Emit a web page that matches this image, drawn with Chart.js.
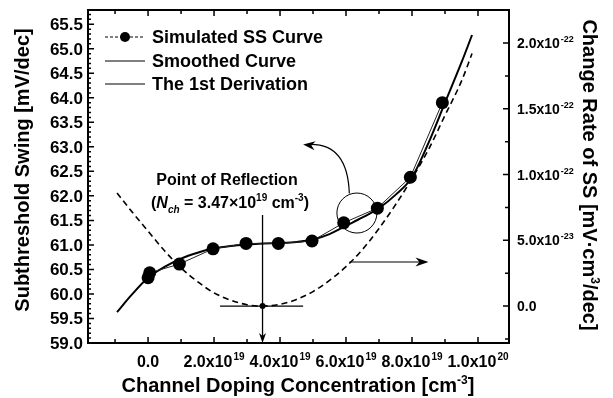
<!DOCTYPE html>
<html>
<head>
<meta charset="utf-8">
<script src="https://cdn.jsdelivr.net/npm/chart.js@4.4.0/dist/chart.umd.min.js"></script>
<style>
  html, body { margin: 0; padding: 0; background: #fff; }
  canvas { display: block; }
</style>
</head>
<body>
<canvas id="c" width="613" height="398"></canvas>
<script>
// x values are in units of 1e19 cm^-3, right axis in units of 1e-22
const simX = [0.0, 0.05, 0.95, 1.97, 2.97, 3.95, 4.97, 5.93, 6.95, 7.95, 8.92];
const simY = [60.33, 60.43, 60.61, 60.92, 61.03, 61.03, 61.08, 61.45, 61.75, 62.38, 63.9];

const smoothX = [-0.94, -0.5, 0, 0.5, 1, 1.5, 2, 2.5, 3, 3.5, 4, 4.5, 5, 5.5, 6, 6.5, 7, 7.5, 8, 8.5, 9, 9.5, 9.82];
const smoothY = [59.63, 59.98, 60.33, 60.55, 60.72, 60.84, 60.93, 60.98, 61.01, 61.03, 61.04, 61.06, 61.11, 61.22, 61.39, 61.56, 61.75, 62.02, 62.38, 63.08, 63.9, 64.72, 65.28];

const derivX = [-0.94, -0.5, 0, 0.5, 1, 1.5, 2, 2.5, 3, 3.47, 4, 4.5, 5, 5.5, 6, 6.5, 7, 7.5, 8, 8.5, 9, 9.5, 9.82];
const derivY = [0.86, 0.72, 0.57, 0.42, 0.29, 0.185, 0.10, 0.045, 0.01, 0, 0.013, 0.05, 0.11, 0.195, 0.30, 0.43, 0.59, 0.77, 0.97, 1.19, 1.45, 1.71, 1.92];

const legendLabels = ['Simulated SS Curve', 'Smoothed Curve', 'The 1st Derivation'];

const xTickValues = [0, 2, 4, 6, 8, 10];
const xTickBase = ['0.0', '2.0x10', '4.0x10', '6.0x10', '8.0x10', '1.0x10'];
const xTickExp = ['', '19', '19', '19', '19', '20'];
const xMinorValues = [-1, 1, 3, 5, 7, 9];

const yTickValues = [59.0, 59.5, 60.0, 60.5, 61.0, 61.5, 62.0, 62.5, 63.0, 63.5, 64.0, 64.5, 65.0, 65.5];
const yTickLabels = ['59.0', '59.5', '60.0', '60.5', '61.0', '61.5', '62.0', '62.5', '63.0', '63.5', '64.0', '64.5', '65.0', '65.5'];

const y2TickValues = [0, 0.5, 1.0, 1.5, 2.0];
const y2TickBase = ['0.0', '5.0x10', '1.0x10', '1.5x10', '2.0x10'];
const y2TickExp = ['', '-23', '-22', '-22', '-22'];
const y2MinorValues = [-0.25, 0.25, 0.75, 1.25, 1.75, 2.25];

const F = '"Liberation Sans", Arial, sans-serif';

function pts(xs, ys) {
  return xs.map((x, i) => ({ x: x, y: ys[i] }));
}

// texte avec exposant
function supText(c, base, exp, x, y, size, align) {
  c.font = 'bold ' + size + 'px ' + F;
  const w1 = c.measureText(base).width;
  const ss = Math.round(size * 0.62);
  c.font = 'bold ' + ss + 'px ' + F;
  const w2 = exp ? c.measureText(exp).width + 1 : 0;
  let x0 = x;
  if (align === 'center') x0 = x - (w1 + w2) / 2;
  if (align === 'right') x0 = x - w1 - w2;
  c.textAlign = 'left';
  c.textBaseline = 'alphabetic';
  c.font = 'bold ' + size + 'px ' + F;
  c.fillText(base, x0, y);
  if (exp) {
    c.font = 'bold ' + ss + 'px ' + F;
    c.fillText(exp, x0 + w1 + 1, y - size * 0.42);
  }
}

// suite de morceaux (normal / italique / indice / exposant)
function partsText(c, parts, cx, y, size) {
  const fontOf = p => (p.it ? 'italic ' : '') + 'bold ' + (p.sub || p.sup ? Math.round(size * 0.62) : size) + 'px ' + F;
  let total = 0;
  parts.forEach(p => { c.font = fontOf(p); p.w = c.measureText(p.t).width; total += p.w; });
  let x = cx - total / 2;
  c.textAlign = 'left';
  c.textBaseline = 'alphabetic';
  parts.forEach(p => {
    c.font = fontOf(p);
    let yy = y;
    if (p.sup) yy = y - size * 0.42;
    if (p.sub) yy = y + size * 0.3;
    c.fillText(p.t, x, yy);
    x += p.w;
  });
}

function arrowHead(c, x, y, angle, len, half) {
  c.save();
  c.translate(x, y);
  c.rotate(angle);
  c.beginPath();
  c.moveTo(0, 0);
  c.lineTo(-len, -half);
  c.lineTo(-len * 0.7, 0);
  c.lineTo(-len, half);
  c.closePath();
  c.fill();
  c.restore();
}

const decorPlugin = {
  id: 'decor',
  afterDraw(chart) {
    const c = chart.ctx;
    const a = chart.chartArea;
    const sx = chart.scales.x, sy = chart.scales.y, sy2 = chart.scales.y2;
    c.save();
    c.fillStyle = '#000';
    c.strokeStyle = '#000';

    // cadre
    c.lineWidth = 2;
    c.strokeRect(a.left, a.top, a.right - a.left, a.bottom - a.top);

    // graduations vers l'intérieur
    c.lineWidth = 1.5;
    c.beginPath();
    xTickValues.forEach(v => {
      const px = sx.getPixelForValue(v);
      c.moveTo(px, a.bottom); c.lineTo(px, a.bottom - 6);
      c.moveTo(px, a.top); c.lineTo(px, a.top + 6);
    });
    xMinorValues.forEach(v => {
      const px = sx.getPixelForValue(v);
      c.moveTo(px, a.bottom); c.lineTo(px, a.bottom - 4);
      c.moveTo(px, a.top); c.lineTo(px, a.top + 4);
    });
    yTickValues.forEach(v => {
      const py = sy.getPixelForValue(v);
      c.moveTo(a.left, py); c.lineTo(a.left + 6, py);
    });
    for (let v = 59.1; v < 65.75; v += 0.1) {
      const py = sy.getPixelForValue(v);
      c.moveTo(a.left, py); c.lineTo(a.left + 3, py);
    }
    y2TickValues.forEach(v => {
      const py = sy2.getPixelForValue(v);
      c.moveTo(a.right, py); c.lineTo(a.right - 6, py);
    });
    y2MinorValues.forEach(v => {
      const py = sy2.getPixelForValue(v);
      c.moveTo(a.right, py); c.lineTo(a.right - 4, py);
    });
    c.stroke();

    // étiquettes des axes
    xTickValues.forEach((v, i) => {
      supText(c, xTickBase[i], xTickExp[i], sx.getPixelForValue(v), 367, 16, 'center');
    });
    yTickValues.forEach((v, i) => {
      supText(c, yTickLabels[i], '', 83, sy.getPixelForValue(v) + 6, 17, 'right');
    });
    y2TickValues.forEach((v, i) => {
      supText(c, y2TickBase[i], y2TickExp[i], 517, sy2.getPixelForValue(v) + 5, 14, 'left');
    });

    // titres
    partsText(c, [{ t: 'Channel Doping Concentration [cm' }, { t: '-3', sup: true }, { t: ']' }], 298, 392, 20);
    c.save();
    c.translate(22, 170);
    c.rotate(-Math.PI / 2);
    partsText(c, [{ t: 'Subthreshold Swing [mV/dec]' }], 0, 7, 20);
    c.restore();
    c.save();
    c.translate(590, 175);
    c.rotate(Math.PI / 2);
    partsText(c, [{ t: 'Change Rate of SS [mV\u00b7cm' }, { t: '3', sup: true }, { t: '/dec]' }], 0, 7, 20);
    c.restore();

    // légende
    const rows = [37, 61, 84];
    c.lineWidth = 1;
    rows.forEach((ry, i) => {
      c.beginPath();
      c.setLineDash(i === 0 ? [3, 2] : []);
      c.moveTo(105, ry); c.lineTo(145, ry);
      c.stroke();
      c.setLineDash([]);
      if (i === 0) {
        c.beginPath(); c.arc(125, ry, 5, 0, Math.PI * 2); c.fill();
      }
      supText(c, legendLabels[i], '', 152, ry + 6, 18, 'left');
    });

    // point d'inflexion
    const xr = sx.getPixelForValue(3.47);
    const y0 = sy2.getPixelForValue(0);
    c.lineWidth = 1.3;
    c.beginPath();
    c.moveTo(xr, sy.getPixelForValue(61.61));
    c.lineTo(xr, a.bottom - 6);
    c.moveTo(sx.getPixelForValue(2.18), y0);
    c.lineTo(sx.getPixelForValue(4.7), y0);
    c.stroke();
    arrowHead(c, xr, a.bottom, Math.PI / 2, 10, 3.5);
    c.beginPath(); c.arc(xr, y0, 3, 0, Math.PI * 2); c.fill();

    partsText(c, [{ t: 'Point of Reflection' }], 227, 185, 16);
    partsText(c, [{ t: '(' }, { t: 'N', it: true }, { t: 'ch', it: true, sub: true }, { t: ' = 3.47\u00d710' }, { t: '19', sup: true }, { t: ' cm' }, { t: '-3', sup: true }, { t: ')' }], 230, 208, 16);

    // cercle et flèches
    c.lineWidth = 1;
    c.beginPath();
    c.arc(sx.getPixelForValue(6.33), sy.getPixelForValue(61.65), 20, 0, Math.PI * 2);
    c.stroke();

    const p0x = sx.getPixelForValue(6.1), p0y = sy.getPixelForValue(62.05);
    const cpx = sx.getPixelForValue(6.05), cpy = sy.getPixelForValue(63.05);
    const tx = sx.getPixelForValue(4.7), ty = sy.getPixelForValue(63.05);
    c.lineWidth = 1.2;
    c.beginPath();
    c.moveTo(p0x, p0y);
    c.quadraticCurveTo(cpx, cpy, tx + 8, ty);
    c.stroke();
    arrowHead(c, tx, ty, Math.PI + 0.12, 12, 4.5);

    const ay = sy2.getPixelForValue(0.335);
    c.beginPath();
    c.moveTo(sx.getPixelForValue(6.1), ay);
    c.lineTo(sx.getPixelForValue(8.5) - 6, ay);
    c.stroke();
    arrowHead(c, sx.getPixelForValue(8.5), ay, 0, 13, 4.5);

    c.restore();
  }
};

new Chart(document.getElementById('c'), {
  type: 'line',
  data: {
    datasets: [
      {
        label: legendLabels[0],
        data: pts(simX, simY),
        borderColor: '#222',
        borderWidth: 1,
        backgroundColor: '#000',
        pointRadius: 6.5,
        pointBorderWidth: 0,
        pointBackgroundColor: '#000',
        tension: 0,
        yAxisID: 'y'
      },
      {
        label: legendLabels[1],
        data: pts(smoothX, smoothY),
        borderColor: '#000',
        borderWidth: 2,
        pointRadius: 0,
        cubicInterpolationMode: 'monotone',
        yAxisID: 'y'
      },
      {
        label: legendLabels[2],
        data: pts(derivX, derivY),
        borderColor: '#000',
        borderWidth: 1.6,
        borderDash: [6, 4],
        pointRadius: 0,
        cubicInterpolationMode: 'monotone',
        yAxisID: 'y2'
      }
    ]
  },
  options: {
    responsive: false,
    animation: false,
    layout: { padding: { left: 88, top: 10, right: 104, bottom: 55 } },
    plugins: { legend: { display: false }, tooltip: { enabled: false } },
    scales: {
      x: { type: 'linear', min: -1.82, max: 10.94, display: false },
      y: { type: 'linear', min: 59.0, max: 65.79, display: false },
      y2: { type: 'linear', position: 'right', min: -0.281, max: 2.251, display: false }
    }
  },
  plugins: [decorPlugin]
});
</script>
</body>
</html>
